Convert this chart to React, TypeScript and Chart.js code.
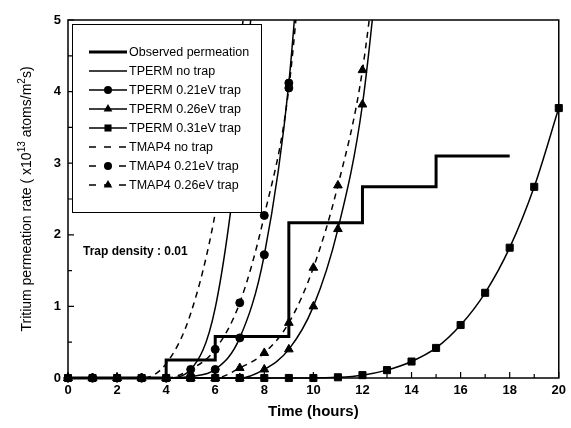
import React, { useEffect, useRef } from 'react';
import { Chart, registerables } from 'chart.js';

Chart.register(...registerables);

const FONT = '"Liberation Sans", Arial, Helvetica, sans-serif';

// ---- data ----
const hours = [0, 1, 2, 3, 4, 5, 6, 7, 8, 9, 10, 11, 12, 13, 14, 15, 16, 17, 18, 19, 20];
const obsTimes = [0, 4, 6, 9, 12, 15, 18];
const observed = [0, 0.25, 0.58, 2.17, 2.67, 3.1, 3.1];
const tpermNoTrap = [0, 0, 0, 0, 0, 0.12, 0.98, 3.4, 7.2];
const tperm021 = [0, 0, 0, 0, 0, 0.02, 0.12, 0.56, 1.72, 4.12, 8.6];
const tperm026 = [0, 0, 0, 0, 0, 0, 0, 0, 0.12, 0.4, 1.0, 2.08, 3.82, 7.0];
const tperm031 = [0, 0, 0, 0, 0, 0, 0, 0, 0, 0, 0, 0.01, 0.04, 0.11, 0.23, 0.42, 0.74, 1.19, 1.82, 2.67, 3.77];
const tmapNoTrap = [0, 0, 0, 0, 0.2, 0.9, 2.3, 4.6, 8.0];
const tmap021 = [0, 0, 0, 0, 0, 0.12, 0.4, 1.05, 2.27, 4.05, 7.9];
const tmap026 = [0, 0, 0, 0, 0, 0, 0, 0.14, 0.35, 0.77, 1.54, 2.69, 4.3, 7.2];

const seriesLabels = [
  'Observed permeation',
  'TPERM no trap',
  'TPERM 0.21eV trap',
  'TPERM 0.26eV trap',
  'TPERM 0.31eV trap',
  'TMAP4 no trap',
  'TMAP4 0.21eV trap',
  'TMAP4 0.26eV trap',
];
const annotationText = 'Trap density : 0.01';
const xTitle = 'Time (hours)';
const yTitleParts = [
  { t: 'Tritium permeation rate ( x10', sup: false },
  { t: '13', sup: true },
  { t: ' atoms/m', sup: false },
  { t: '2', sup: true },
  { t: 's)', sup: false },
];

const toPts = (vals: number[], xs: number[] = hours) => vals.map((v, i) => ({ x: xs[i], y: v }));

function drawMarker(ctx: CanvasRenderingContext2D, style: string, x: number, y: number, r: number) {
  ctx.beginPath();
  if (style === 'circle') {
    ctx.arc(x, y, r, 0, Math.PI * 2);
  } else if (style === 'triangle') {
    let rad = 0;
    ctx.moveTo(x + Math.sin(rad) * r, y - Math.cos(rad) * r);
    rad += (2 * Math.PI) / 3;
    ctx.lineTo(x + Math.sin(rad) * r, y - Math.cos(rad) * r);
    rad += (2 * Math.PI) / 3;
    ctx.lineTo(x + Math.sin(rad) * r, y - Math.cos(rad) * r);
    ctx.closePath();
  } else if (style === 'rect') {
    const s = Math.SQRT1_2 * r;
    ctx.rect(x - s, y - s, 2 * s, 2 * s);
  }
  ctx.fill();
}

const decorPlugin = {
  id: 'decor',
  beforeDatasetsDraw(chart: any) {
    const { ctx, chartArea: a, scales } = chart;
    const xs = scales.x;
    const ys = scales.y;
    ctx.save();
    ctx.strokeStyle = '#000';
    ctx.lineWidth = 1.5;
    ctx.strokeRect(a.left, a.top, a.right - a.left, a.bottom - a.top);
    ctx.lineWidth = 1.2;
    ctx.beginPath();
    for (let h = 0; h <= 20; h++) {
      const px = xs.getPixelForValue(h);
      const len = h % 2 === 0 ? 6 : 4;
      ctx.moveTo(px, a.bottom);
      ctx.lineTo(px, a.bottom - len);
    }
    for (let v = 0; v <= 10; v++) {
      const py = ys.getPixelForValue(v / 2);
      const len = v % 2 === 0 ? 6 : 4;
      ctx.moveTo(a.left, py);
      ctx.lineTo(a.left + len, py);
    }
    ctx.stroke();
    ctx.restore();
  },
  afterDatasetsDraw(chart: any) {
    const { ctx, chartArea: a } = chart;
    ctx.save();
    // legend box
    const L = { left: 72, top: 24, right: 261, bottom: 212 };
    ctx.fillStyle = '#fff';
    ctx.fillRect(L.left, L.top, L.right - L.left, L.bottom - L.top);
    ctx.strokeStyle = '#000';
    ctx.lineWidth = 1;
    ctx.strokeRect(L.left + 0.5, L.top + 0.5, L.right - L.left, L.bottom - L.top);
    chart.data.datasets.forEach((ds: any, i: number) => {
      const y = 52 + i * 19;
      ctx.strokeStyle = '#000';
      ctx.fillStyle = '#000';
      ctx.lineWidth = ds.borderWidth;
      ctx.setLineDash(ds.borderDash && ds.borderDash.length ? [7, 8] : []);
      ctx.beginPath();
      ctx.moveTo(89, y);
      ctx.lineTo(127, y);
      ctx.stroke();
      ctx.setLineDash([]);
      if (ds.pointRadius > 0) drawMarker(ctx, ds.pointStyle, 108, y, ds.pointRadius);
      ctx.font = `12.5px ${FONT}`;
      ctx.textBaseline = 'middle';
      ctx.textAlign = 'left';
      ctx.fillText(ds.label, 129, y + 0.5);
    });
    // annotation
    ctx.font = `bold 12px ${FONT}`;
    ctx.textBaseline = 'middle';
    ctx.fillStyle = '#000';
    ctx.fillText(annotationText, 83, 252);
    // x title
    ctx.font = `bold 15px ${FONT}`;
    ctx.textAlign = 'center';
    ctx.fillText(xTitle, (a.left + a.right) / 2, 412);
    // y title with superscripts
    ctx.translate(27, (a.top + a.bottom) / 2);
    ctx.rotate(-Math.PI / 2);
    const big = `14px ${FONT}`;
    const small = `10px ${FONT}`;
    let total = 0;
    yTitleParts.forEach((p) => {
      ctx.font = p.sup ? small : big;
      total += ctx.measureText(p.t).width;
    });
    let cx = -total / 2;
    ctx.textAlign = 'left';
    yTitleParts.forEach((p) => {
      ctx.font = p.sup ? small : big;
      ctx.fillText(p.t, cx, p.sup ? -5 : 0);
      cx += ctx.measureText(p.t).width;
    });
    ctx.restore();
  },
};

export default function App() {
  const ref = useRef<HTMLCanvasElement | null>(null);
  useEffect(() => {
    if (!ref.current) return;
    const clip = { left: 8, right: 8, top: 0, bottom: 8 };
    const common = {
      borderColor: '#000',
      backgroundColor: '#000',
      pointBackgroundColor: '#000',
      pointBorderColor: '#000',
      pointBorderWidth: 1,
      fill: false,
      cubicInterpolationMode: 'monotone',
      clip,
    };
    const dash = [6, 5];
    const chart = new Chart(ref.current, {
      type: 'line',
      data: {
        datasets: [
          { ...common, label: seriesLabels[0], data: toPts(observed, obsTimes), borderWidth: 3, stepped: true, pointRadius: 0, cubicInterpolationMode: 'default' },
          { ...common, label: seriesLabels[1], data: toPts(tpermNoTrap), borderWidth: 1.5, pointRadius: 0 },
          { ...common, label: seriesLabels[2], data: toPts(tperm021), borderWidth: 1.5, pointStyle: 'circle', pointRadius: 4 },
          { ...common, label: seriesLabels[3], data: toPts(tperm026), borderWidth: 1.5, pointStyle: 'triangle', pointRadius: 5 },
          { ...common, label: seriesLabels[4], data: toPts(tperm031), borderWidth: 1.5, pointStyle: 'rect', pointRadius: 5 },
          { ...common, label: seriesLabels[5], data: toPts(tmapNoTrap), borderWidth: 1.5, borderDash: dash, pointRadius: 0 },
          { ...common, label: seriesLabels[6], data: toPts(tmap021), borderWidth: 1.5, borderDash: dash, pointStyle: 'circle', pointRadius: 4 },
          { ...common, label: seriesLabels[7], data: toPts(tmap026), borderWidth: 1.5, borderDash: dash, pointStyle: 'triangle', pointRadius: 5 },
        ] as any,
      },
      options: {
        responsive: false,
        devicePixelRatio: 1,
        animation: false,
        events: [],
        layout: { padding: { top: 20, right: 10, left: 0, bottom: 0 } },
        plugins: { legend: { display: false }, tooltip: { enabled: false }, title: { display: false } },
        scales: {
          x: {
            type: 'linear',
            min: 0,
            max: 20,
            grid: { display: false, drawTicks: false },
            border: { display: false },
            ticks: { stepSize: 2, color: '#000', padding: 5, font: { family: FONT, size: 13, weight: 'bold' } },
            afterFit: (s: any) => { s.height = 50; },
          },
          y: {
            type: 'linear',
            min: 0,
            max: 5,
            grid: { display: false, drawTicks: false },
            border: { display: false },
            ticks: { stepSize: 1, color: '#000', padding: 7, font: { family: FONT, size: 13, weight: 'bold' } },
            afterFit: (s: any) => { s.width = 68; },
          },
        },
      } as any,
      plugins: [decorPlugin],
    });
    return () => chart.destroy();
  }, []);
  return (
    <div style={{ position: 'absolute', left: 0, top: 0, width: 571, height: 428, background: '#fff' }}>
      <canvas ref={ref} width={571} height={428} style={{ display: 'block', width: 571, height: 428 }} />
    </div>
  );
}
